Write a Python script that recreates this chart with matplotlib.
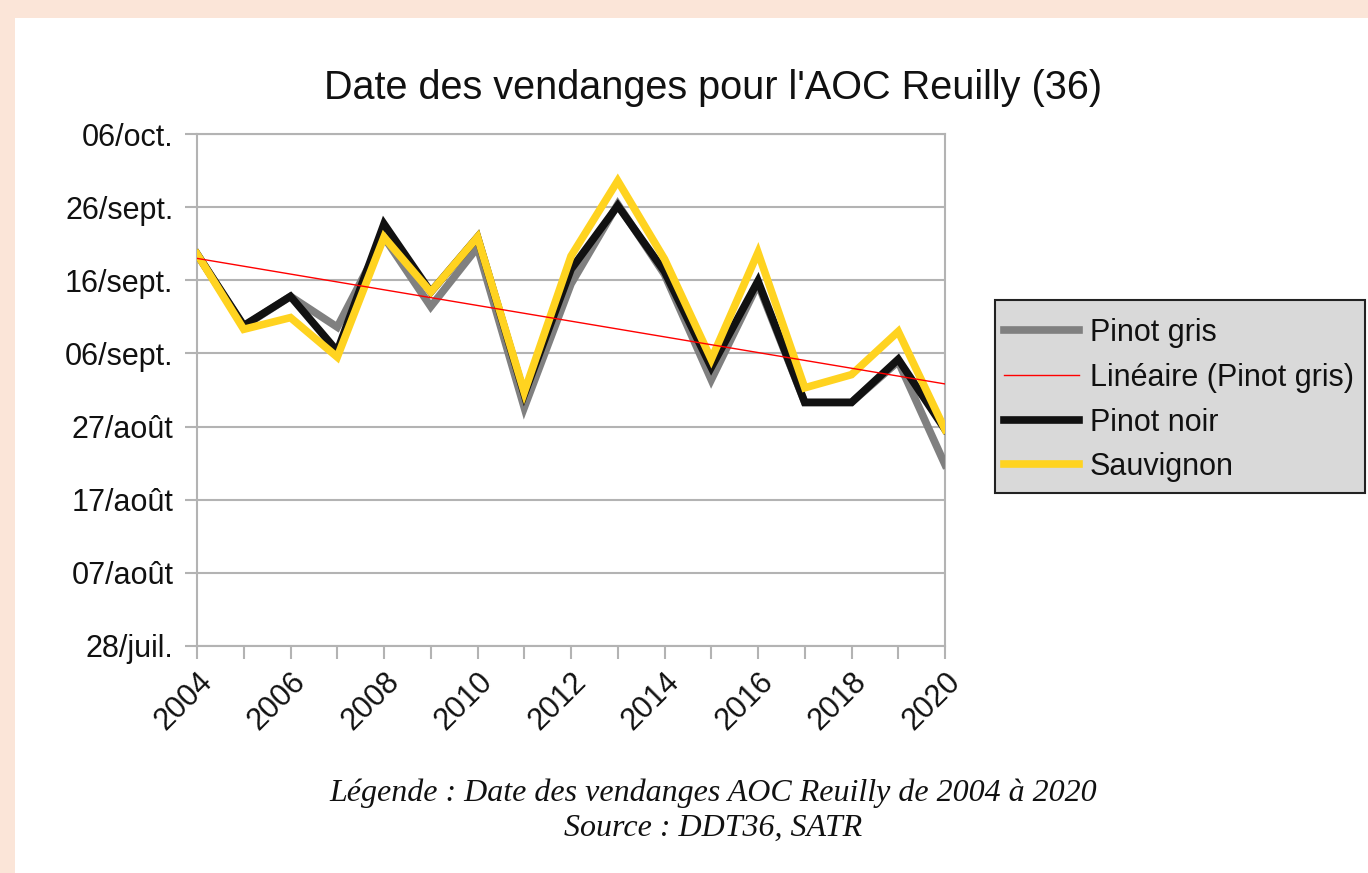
import matplotlib.pyplot as plt
import numpy as np
from matplotlib.patches import Rectangle

# Années et dates de vendange (jour de l'année, 1er janv. = 1)
annees = list(range(2004, 2021))
pinot_gris = [262.6, 252.7, 256.8, 252.6, 264.9, 255.4, 263.5, 241.6, 258.5,
              269.4, 259.8, 245.4, 258.5, 242.3, 242.3, 247.9, 233.8]
pinot_noir = [262.6, 252.8, 256.8, 249.3, 266.7, 257.4, 264.9, 243.4, 260.5,
              269.2, 260.2, 247.1, 258.9, 242.3, 242.3, 248.2, 238.6]
sauvignon = [262.6, 252.3, 253.9, 248.5, 264.9, 257.4, 264.9, 243.7, 262.3,
             272.6, 261.9, 248.2, 262.8, 244.3, 246.1, 252.0, 238.6]

jours_ticks = [209, 219, 229, 239, 249, 259, 269, 279]
labels_ticks = ['28/juil.', '07/août', '17/août', '27/août', '06/sept.',
                '16/sept.', '26/sept.', '06/oct.']

texte = '#111111'
gris_axe = '#b3b3b3'

fig = plt.figure(figsize=(13.68, 8.73), dpi=100)
fig.patch.set_facecolor('#fbe5d8')
# panneau blanc
fig.patches.append(Rectangle((15 / 1368, 0), 1 - 15 / 1368, 1 - 18 / 873,
                             transform=fig.transFigure, facecolor='white',
                             edgecolor='none', zorder=-10))
# cadre de la légende
fig.patches.append(Rectangle((995 / 1368, 1 - 493 / 873), 370 / 1368, 193 / 873,
                             transform=fig.transFigure, facecolor='#d9d9d9',
                             edgecolor='#222222', lw=1.5, zorder=0.5))

ax = fig.add_axes([197 / 1368, 1 - 646 / 873, (945 - 197) / 1368, (646 - 134) / 873])
ax.set_facecolor('white')
ax.set_zorder(1)

x = np.array(annees)
ax.plot(x, pinot_gris, color='#808080', lw=5.5, label='Pinot gris', zorder=3,
        solid_joinstyle='miter')
# tendance linéaire sur le pinot gris
a, b = np.polyfit(x, pinot_gris, 1)
ax.plot(x, a * x + b, color='#ff0000', lw=1, label='Linéaire (Pinot gris)', zorder=6)
ax.plot(x, pinot_noir, color='#111111', lw=5.5, label='Pinot noir', zorder=4,
        solid_joinstyle='miter')
ax.plot(x, sauvignon, color='#ffd320', lw=5.5, label='Sauvignon', zorder=5,
        solid_joinstyle='miter')

ax.set_xlim(2004, 2020)
ax.set_ylim(209, 279)
ax.set_yticks(jours_ticks)
ax.set_yticklabels(labels_ticks)
ax.set_xticks(annees)
ax.set_xticklabels([str(a_) if a_ % 2 == 0 else '' for a_ in annees],
                   rotation=45, ha='right', va='top', rotation_mode='anchor')
ax.grid(axis='y', color=gris_axe, lw=1.5)
ax.set_axisbelow(True)
for s in ax.spines.values():
    s.set_color(gris_axe)
    s.set_linewidth(1.5)
ax.tick_params(axis='both', colors=gris_axe, length=9, width=1.5,
               labelcolor=texte, labelsize=22, labelfontfamily='Liberation Sans')
ax.tick_params(axis='y', pad=8)
ax.tick_params(axis='x', pad=6)

fig.text(713 / 1368, 1 - 88 / 873, "Date des vendanges pour l'AOC Reuilly (36)",
         ha='center', va='center', fontsize=28.5, color=texte, family='Liberation Sans')

leg = ax.legend(loc='upper left', bbox_to_anchor=(995 / 1368, 1 - 309 / 873),
                bbox_transform=fig.transFigure, frameon=False,
                prop={'family': 'Liberation Sans', 'size': 22},
                handlelength=2.45, handletextpad=0.35, labelspacing=0.48,
                borderpad=0.3, borderaxespad=0)
for t in leg.get_texts():
    t.set_color(texte)

fig.text(713 / 1368, 1 - 793 / 873, 'Légende : Date des vendanges AOC Reuilly de 2004 à 2020',
         ha='center', va='center', fontsize=23, style='italic', color=texte,
         family='Liberation Serif')
fig.text(713 / 1368, 1 - 828 / 873, 'Source : DDT36, SATR',
         ha='center', va='center', fontsize=23, style='italic', color=texte,
         family='Liberation Serif')

fig.savefig('out.png', dpi=100, facecolor=fig.get_facecolor())
